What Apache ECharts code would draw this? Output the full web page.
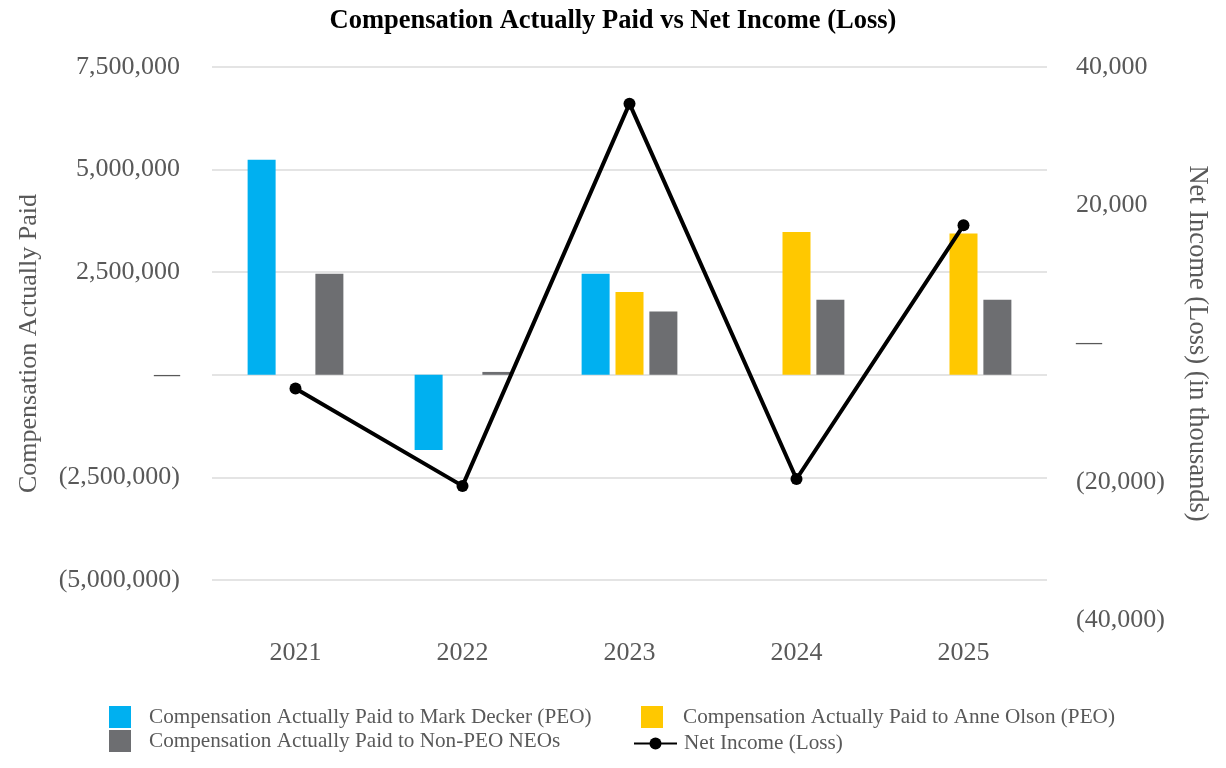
<!DOCTYPE html>
<html>
<head>
<meta charset="utf-8">
<script src="https://cdn.jsdelivr.net/npm/echarts@6/dist/echarts.min.js"></script>
<style>html,body{margin:0;padding:0;background:#fff;}#chart{width:1226px;height:768px;}</style>
</head>
<body>
<div id="chart"></div>
<script>
var years = ['2021', '2022', '2023', '2024', '2025'];
var markDecker = [5240000, -1830000, 2460000, null, null];
var anneOlson = [null, null, 2020000, 3480000, 3440000];
var nonPeo = [2460000, 70000, 1540000, 1830000, 1830000];
var netIncome = [-6500, -20600, 34700, -19600, 17100];

var FONT = 'Liberation Serif';
var GRAY = '#595959';

function fmt(v) {
  if (v === 0) return '—';
  var s = Math.abs(v).toLocaleString('en-US');
  return v < 0 ? '(' + s + ')' : s;
}

var chart = echarts.init(document.getElementById('chart'));
chart.setOption({
  animation: false,
  backgroundColor: '#fff',
  title: {
    text: 'Compensation Actually Paid vs Net Income (Loss)',
    left: 'center', top: 3,
    textStyle: { fontFamily: FONT, fontWeight: 'bold', fontSize: 26.5, color: '#000' }
  },
  legend: [
    {
      left: 109, top: 706, padding: 0, orient: 'vertical', itemWidth: 22, itemHeight: 22, itemGap: 2,
      icon: 'rect',
      data: ['Compensation Actually Paid to Mark Decker (PEO)', 'Compensation Actually Paid to Non-PEO NEOs'],
      textStyle: { fontFamily: FONT, fontSize: 21.2, color: GRAY, padding: [0, 0, 0, 13] }
    },
    {
      left: 641, top: 706, padding: 0, orient: 'vertical', itemWidth: 22, itemHeight: 22,
      icon: 'rect',
      data: ['Compensation Actually Paid to Anne Olson (PEO)'],
      textStyle: { fontFamily: FONT, fontSize: 21.2, color: GRAY, padding: [0, 0, 0, 15] }
    },
    {
      left: 633, top: 733, padding: 0, orient: 'vertical', itemWidth: 43, itemHeight: 15,
      data: ['Net Income (Loss)'],
      textStyle: { fontFamily: FONT, fontSize: 21.2, color: GRAY, padding: [0, 0, 0, 2] }
    }
  ],
  grid: [
    { left: 212, right: 179, top: 67, height: 513, containLabel: false },
    { left: 212, right: 179, top: 67, height: 553, containLabel: false }
  ],
  xAxis: [
    {
      type: 'category', gridIndex: 0, data: years,
      axisLine: { show: false }, axisTick: { show: false }, axisLabel: { show: false }
    },
    {
      type: 'category', gridIndex: 1, data: years,
      axisLine: { show: false }, axisTick: { show: false },
      axisLabel: { margin: 20, fontFamily: FONT, fontSize: 26, color: GRAY }
    }
  ],
  yAxis: [
    {
      type: 'value', gridIndex: 0, min: -5000000, max: 7500000, interval: 2500000,
      axisLine: { show: false }, axisTick: { show: false },
      axisLabel: { margin: 32, fontFamily: FONT, fontSize: 26, color: GRAY, formatter: fmt },
      splitLine: { lineStyle: { color: '#e4e4e4', width: 2 } }
    },
    {
      type: 'value', gridIndex: 1, position: 'right', min: -40000, max: 40000, interval: 20000,
      name: 'Net Income (Loss) (in thousands)', nameLocation: 'middle', nameRotate: -90, nameGap: 136,
      nameTextStyle: { fontFamily: FONT, fontSize: 26.5, color: GRAY },
      axisLine: { show: false }, axisTick: { show: false },
      axisLabel: { margin: 29, fontFamily: FONT, fontSize: 26, color: GRAY, formatter: fmt },
      splitLine: { show: false }
    },
    {
      type: 'value', gridIndex: 1, position: 'left', min: -40000, max: 40000, interval: 20000,
      name: 'Compensation Actually Paid', nameLocation: 'middle', nameRotate: 90, nameGap: 170,
      nameTextStyle: { fontFamily: FONT, fontSize: 26, color: GRAY },
      axisLine: { show: false }, axisTick: { show: false }, axisLabel: { show: false },
      splitLine: { show: false }
    }
  ],
  series: [
    {
      name: 'Compensation Actually Paid to Mark Decker (PEO)', type: 'bar',
      xAxisIndex: 0, yAxisIndex: 0, data: markDecker,
      barWidth: 28, barGap: '21%', itemStyle: { color: '#00B0F0' }
    },
    {
      name: 'Compensation Actually Paid to Anne Olson (PEO)', type: 'bar',
      xAxisIndex: 0, yAxisIndex: 0, data: anneOlson,
      barWidth: 28, barGap: '21%', itemStyle: { color: '#FFC800' }
    },
    {
      name: 'Compensation Actually Paid to Non-PEO NEOs', type: 'bar',
      xAxisIndex: 0, yAxisIndex: 0, data: nonPeo,
      barWidth: 28, barGap: '21%', itemStyle: { color: '#6D6E71' }
    },
    {
      name: 'Net Income (Loss)', type: 'line',
      xAxisIndex: 1, yAxisIndex: 1, data: netIncome,
      symbol: 'circle', symbolSize: 12, z: 5,
      lineStyle: { color: '#000', width: 4 }, itemStyle: { color: '#000' }
    }
  ]
});
</script>
</body>
</html>
